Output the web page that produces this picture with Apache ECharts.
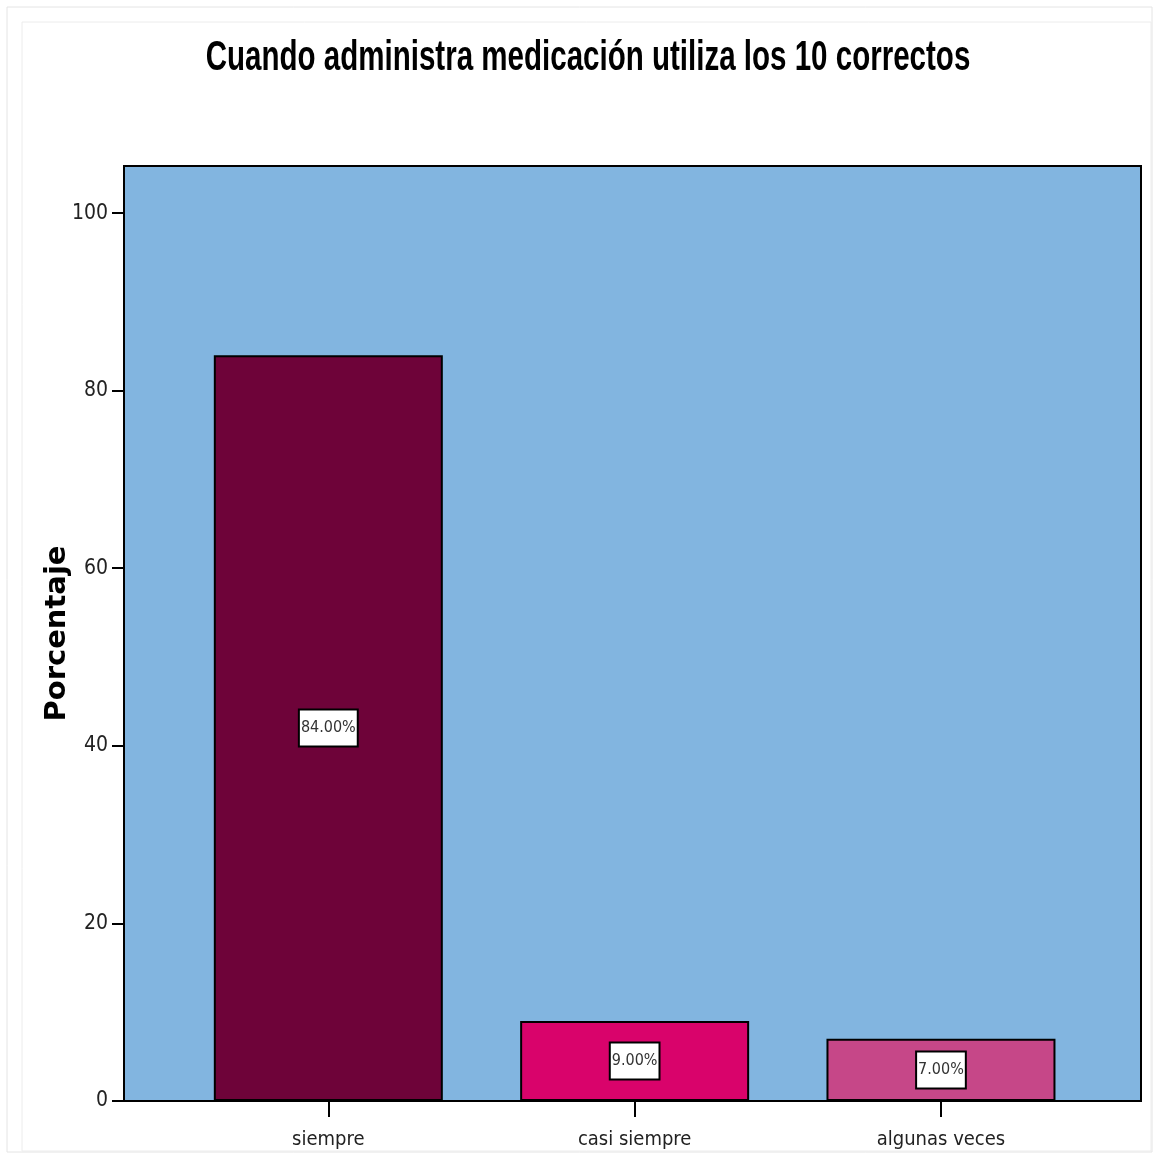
<!DOCTYPE html>
<html>
<head>
<meta charset="utf-8">
<script src="https://cdn.jsdelivr.net/npm/echarts@6/dist/echarts.min.js"></script>
<style>
html,body{margin:0;padding:0;background:#fff;}
#chart{width:1158px;height:1158px;}
</style>
</head>
<body>
<div id="chart"></div>
<script>
const titleText = 'Cuando administra medicación utiliza los 10 correctos';
const categories = ['siempre', 'casi siempre', 'algunas veces'];
const percentages = [84, 9, 7];
const barColors = ['#6E0339', '#D9036B', '#C64788'];
const yTicks = [0, 20, 40, 60, 80, 100];

const cond = '"DejaVu Sans Condensed", "Liberation Sans", sans-serif';

const chart = echarts.init(document.getElementById('chart'));
chart.setOption({
  animation: false,
  backgroundColor: '#fff',
  graphic: [
    { type: 'rect', shape: { x: 7, y: 7, width: 1145, height: 1145 }, style: { fill: 'none', stroke: '#e4e4e4', lineWidth: 1 }, silent: true },
    { type: 'rect', shape: { x: 22, y: 22, width: 1129, height: 1129 }, style: { fill: 'none', stroke: '#ececec', lineWidth: 1 }, silent: true },
    {
      type: 'text', x: 588, y: 58, scaleX: 0.703, silent: true,
      style: {
        text: titleText, textAlign: 'center', textVerticalAlign: 'middle',
        fontFamily: '"Liberation Sans", Arial, sans-serif', fontWeight: 'bold', fontSize: 42, fill: '#000'
      }
    }
  ],
  grid: {
    left: 124, right: 17, top: 166, bottom: 57,
    show: true, backgroundColor: '#82B5E0', borderColor: '#000', borderWidth: 2
  },
  xAxis: {
    type: 'value',
    min: -0.667, max: 2.653,
    splitLine: { show: false },
    axisLine: { show: true, onZero: false, lineStyle: { color: '#000', width: 2 } },
    axisTick: { show: true, customValues: [0, 1, 2], length: 16, lineStyle: { color: '#000', width: 2 } },
    axisLabel: {
      customValues: [0, 1, 2],
      formatter: v => categories[Math.round(v)] || '',
      fontFamily: cond, fontSize: 20, color: '#222', margin: 29
    }
  },
  yAxis: {
    type: 'value',
    min: 0, max: 105.3,
    name: 'Porcentaje',
    nameLocation: 'middle',
    nameGap: 52,
    nameMoveOverlap: false,
    nameTextStyle: { fontFamily: '"DejaVu Sans", sans-serif', fontWeight: 'bold', fontSize: 29, color: '#000' },
    splitLine: { show: false },
    axisLine: { show: true, onZero: false, lineStyle: { color: '#000', width: 2 } },
    axisTick: { show: true, customValues: yTicks, length: 12, lineStyle: { color: '#000', width: 2 } },
    axisLabel: { customValues: yTicks, fontFamily: cond, fontSize: 21, color: '#222', margin: 16 }
  },
  series: [{
    type: 'bar',
    barWidth: 229,
    data: percentages.map((v, i) => ({ value: [i, v], itemStyle: { color: barColors[i] } })),
    itemStyle: { borderColor: '#000', borderWidth: 2 },
    label: {
      show: true,
      position: 'inside',
      formatter: p => p.value[1].toFixed(2) + '%',
      backgroundColor: '#fff',
      borderColor: '#000',
      borderWidth: 2,
      padding: [10, 1, 9, 1],
      fontFamily: cond,
      fontSize: 16,
      color: '#333'
    }
  }]
});
</script>
</body>
</html>
